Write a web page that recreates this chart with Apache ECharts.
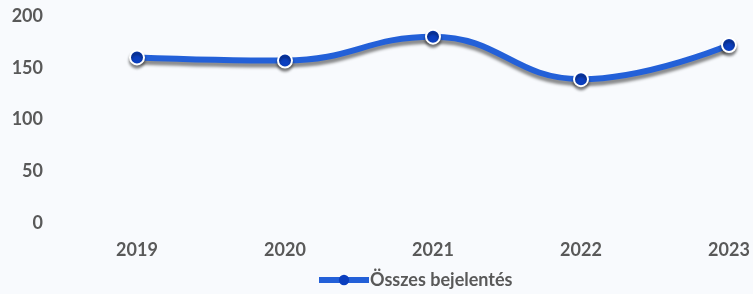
<!DOCTYPE html>
<html>
<head>
<meta charset="utf-8">
<script src="https://cdn.jsdelivr.net/npm/echarts@6/dist/echarts.min.js"></script>
<style>
html, body { margin: 0; padding: 0; background: #f8fafd; }
#main { width: 753px; height: 294px; }
</style>
</head>
<body>
<div id="main"></div>
<script>
var years = ['2019', '2020', '2021', '2022', '2023'];
var osszes = [160, 157, 180, 139, 172];
var yTicks = [0, 50, 100, 150, 200];

var myChart = echarts.init(document.getElementById('main'));
var option = {
    backgroundColor: '#f8fafd',
    textStyle: { fontFamily: 'Lato', fontWeight: 'bold', color: '#595959' },
    legend: {
        data: ['Összes bejelentés'],
        bottom: 0,
        left: 311,
        itemWidth: 50,
        itemHeight: 13,
        itemGap: 0,
        lineStyle: { width: 6, color: '#2360d8' },
        itemStyle: { color: '#0b3fbf', borderWidth: 0 },
        textStyle: { fontSize: 18, fontWeight: 'bold', color: '#595959', padding: [0, 0, 0, -4] }
    },
    grid: { left: 137, right: 24, top: 16, bottom: 71 },
    xAxis: {
        type: 'category',
        data: years,
        boundaryGap: false,
        axisLine: { show: false },
        axisTick: { show: false },
        axisLabel: { fontSize: 18, fontWeight: 'bold', color: '#595959', margin: 18 }
    },
    yAxis: {
        type: 'value',
        min: yTicks[0],
        max: yTicks[yTicks.length - 1],
        interval: 50,
        splitLine: { show: false },
        axisLabel: { fontSize: 18, fontWeight: 'bold', color: '#595959', margin: 94 }
    },
    series: [{
        name: 'Összes bejelentés',
        type: 'line',
        data: osszes,
        smooth: 0.45,
        symbol: 'circle',
        symbolSize: 14,
        itemStyle: { color: '#0b3fbf', borderColor: '#ffffff', borderWidth: 2,
            shadowColor: 'rgba(0,0,0,0.45)', shadowBlur: 3, shadowOffsetY: 3 },
        lineStyle: { color: '#2360d8', width: 6,
            shadowColor: 'rgba(0,0,0,0.45)', shadowBlur: 3, shadowOffsetY: 4 }
    }]
};
myChart.setOption(option);
</script>
</body>
</html>
